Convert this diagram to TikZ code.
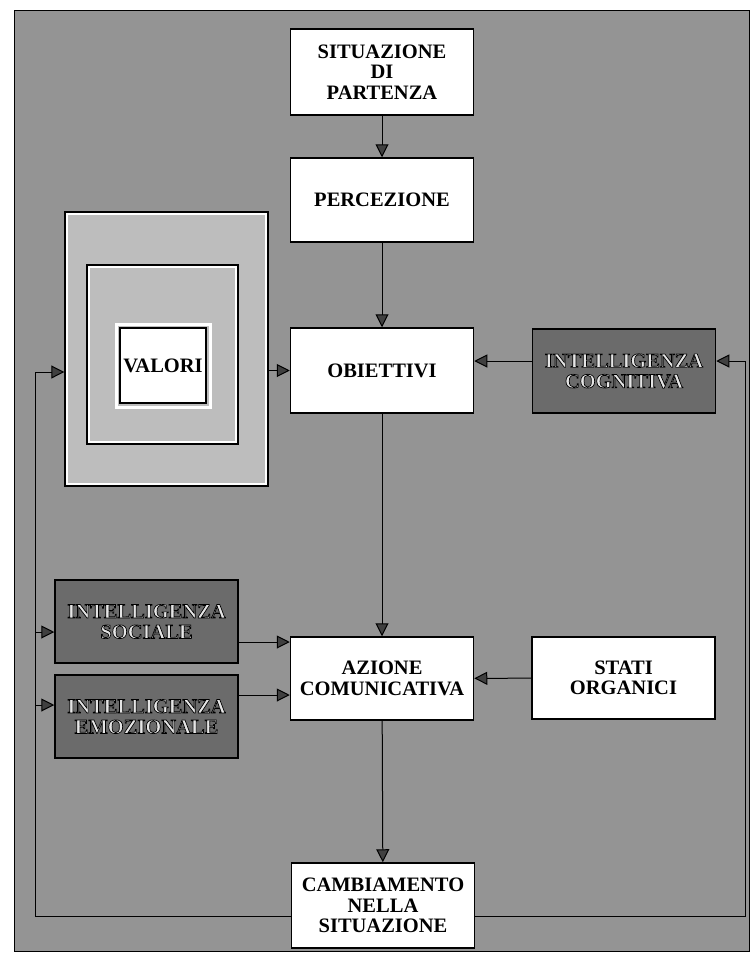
\documentclass[tikz,border=0pt]{standalone}
\usepackage{fontspec}
\setmainfont{Liberation Serif}
\usetikzlibrary{arrows.meta,positioning}

% light letters with a dark outline, as in the grey boxes
\newcommand{\embossed}[1]{\special{pdf:literal direct 2 Tr 0.7 w 0.9 g 0 G}#1\special{pdf:literal direct 0 Tr 0 g}}

\tikzset{
  box/.style={draw, line width=1.5pt, fill=white, align=center, inner sep=0pt,
    font=\bfseries\fontsize{20.5}{20.5}\selectfont,
    minimum width=183pt, minimum height=85pt},
  darkbox/.style={box, fill=black!58},
  framebox/.style={draw, line width=1.4pt, fill=black!26, inner sep=0pt},
  flow/.style={line width=1pt, -{Triangle[length=13pt,width=13pt,fill=black!75]}},
}

\begin{document}
\begin{tikzpicture}[x=1pt,y=-1pt]
\useasboundingbox (0,0) rectangle (751,956);
% grey background with its frame
\draw[line width=0.8pt, fill=black!42] (14,10) rectangle (749,951);

% main column
\node[box, minimum height=86pt] (sit) at (382,72) {SITUAZIONE\\DI\\PARTENZA};
\node[box, minimum height=84pt] (perc) at (382,200) {PERCEZIONE};
\node[box] (obi) at (382,370.5) {OBIETTIVI};
\node[box, minimum height=83pt] (azi) at (382,678.5) {AZIONE\\COMUNICATIVA};
\node[box] (camb) at (383,905.5) {CAMBIAMENTO\\NELLA\\SITUAZIONE};

% side boxes
\node[darkbox, minimum height=84pt] (cogn) at (624,371) {\embossed{INTELLIGENZA\\COGNITIVA}};
\node[box, minimum height=82pt] (stati) at (623.5,678) {STATI\\ORGANICI};
\node[darkbox, minimum height=83pt] (soc) at (146.5,621.5) {\embossed{INTELLIGENZA\\SOCIALE}};
\node[darkbox, minimum height=83pt] (emo) at (146.5,716.5) {\embossed{INTELLIGENZA\\EMOZIONALE}};

% nested frames round VALORI
\node[framebox, minimum width=203pt, minimum height=274pt] (vout) at (166.5,349) {};
\node[framebox, minimum width=151pt, minimum height=179pt] (vmid) at (162.5,354.5) {};
\foreach \b in {vout,vmid}
  \draw[white, line width=2pt] ([shift={(3,3)}]\b.north west) rectangle ([shift={(-3,-3)}]\b.south east);
\draw[white, line width=3pt] (116,324) rectangle (210,407);
\node[box, minimum width=86pt, minimum height=75pt] (valori) at (163,365.5) {VALORI};

% arrows of the main column
\draw[flow] (sit) -- (perc);
\draw[flow] (perc) -- (obi);
\draw[flow] (obi) -- (azi);
\draw[flow] (azi) -- (camb);
\draw[flow] (vout.east |- obi) -- (obi.west);
\draw[flow] ([yshift=10pt]cogn.west) -- ([yshift=10pt]cogn.west -| obi.east);
\draw[flow] (stati) -- (azi);
\draw[flow] ([yshift=-20.5pt]soc.east) -- ([yshift=-20.5pt]soc.east -| azi.west);
\draw[flow] ([yshift=21.5pt]emo.east) -- ([yshift=21.5pt]emo.east -| azi.west);

% feedback from the change back to the start
\coordinate (lft) at (35,372);
\coordinate (rgt) at (745,361);
\draw[flow] ([yshift=-10.5pt]camb.west) -| (lft) -- (vout.west |- lft);
\foreach \n/\s in {soc/-10.5pt,emo/11.5pt}
  \draw[flow] ([yshift=\s]\n.west -| lft) -- ([yshift=\s]\n.west);
\draw[flow] ([yshift=-10.5pt]camb.east) -| (rgt) -- (cogn.east |- rgt);
\end{tikzpicture}
\end{document}
